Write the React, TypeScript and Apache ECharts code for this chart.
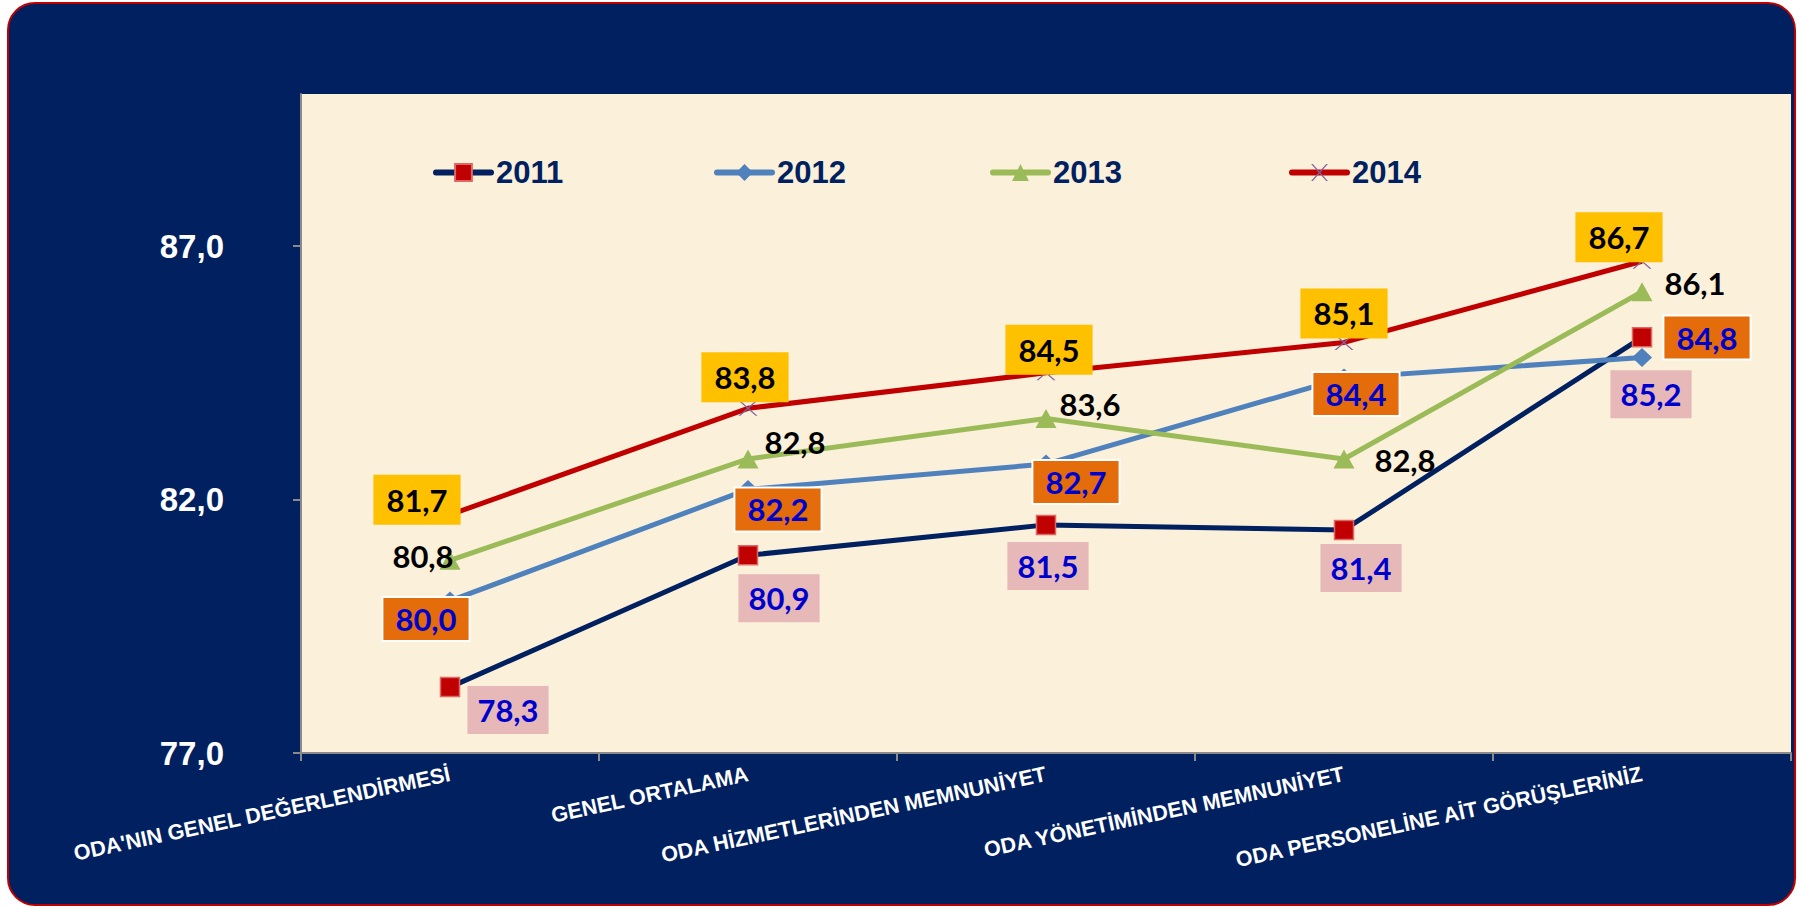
import React, { useEffect, useRef } from 'react';
import * as echarts from 'echarts';

const categories = [
  "ODA'NIN GENEL DEĞERLENDİRMESİ",
  'GENEL ORTALAMA',
  'ODA HİZMETLERİNDEN MEMNUNİYET',
  'ODA YÖNETİMİNDEN MEMNUNİYET',
  'ODA PERSONELİNE AİT GÖRÜŞLERİNİZ',
];
const seriesNames = ['2011', '2012', '2013', '2014'];
const values2011 = [78.3, 80.9, 81.5, 81.4, 85.2];
const values2012 = [80.0, 82.2, 82.7, 84.4, 84.8];
const values2013 = [80.8, 82.8, 83.6, 82.8, 86.1];
const values2014 = [81.7, 83.8, 84.5, 85.1, 86.7];
const yTicks = [77, 82, 87];
const yMin = 77;
const yMax = 90;

// label placement (label centre relative to the point, px)
const offsets2011 = [[58, 23], [31, 43], [2, 41], [17, 38], [9, 57]];
const offsets2012 = [[-24, 18], [30, 20], [30, 18], [12, 16], [65, -20]];
const offsets2013 = [[-27, -4], [47, -17], [44, -14], [61, 1], [53, -9]];
const offsets2014 = [[-33, -15], [-3, -31], [3, -23], [0, -29], [-23, -24]];

const fmt = (v: number) => v.toFixed(1).replace('.', ',');
const LABEL_FONT = 'Lato, "Open Sans", sans-serif';
const AXIS_FONT = '"Liberation Sans", Arial, sans-serif';
const X_SYMBOL = 'path://M0,0L2,0L20,16L18,16Z M18,0L20,0L2,16L0,16Z';

function build(values: number[], offsets: number[][]) {
  return values.map((v, i) => ({ value: v, label: { offset: offsets[i] } }));
}

export default function App() {
  const ref = useRef<HTMLDivElement>(null);
  useEffect(() => {
    if (!ref.current) return;
    const chart = echarts.init(ref.current, undefined, { renderer: 'svg' });
    const baseLabel = {
      show: true,
      position: 'inside',
      fontFamily: LABEL_FONT,
      fontWeight: 'bold',
      fontSize: 31,
      lineHeight: 32,
      formatter: (p: any) => fmt(p.value),
    };
    const legendCommon = {
      itemWidth: 55,
      itemHeight: 21,
      itemGap: 5,
      lineStyle: { width: 6, cap: 'round' },
      textStyle: { color: '#002060', fontWeight: 'bold', fontSize: 31, fontFamily: AXIS_FONT },
      top: 152,
    };
    chart.setOption({
      animation: false,
      backgroundColor: 'transparent',
      grid: {
        left: 301,
        right: 7,
        top: 94,
        bottom: 155,
        show: true,
        backgroundColor: '#FBF0D9',
        borderWidth: 0,
      },
      legend: [
        { ...legendCommon, left: 428, data: [seriesNames[0]] },
        { ...legendCommon, left: 709, data: [seriesNames[1]] },
        { ...legendCommon, left: 985, data: [seriesNames[2]] },
        { ...legendCommon, left: 1284, data: [seriesNames[3]] },
      ],
      xAxis: {
        type: 'category',
        data: categories,
        boundaryGap: true,
        axisLine: { lineStyle: { color: '#8A8A8A', width: 2 } },
        axisTick: { show: true, length: 8, lineStyle: { color: '#8A8A8A', width: 2 } },
        axisLabel: {
          interval: 0,
          rotate: 12,
          margin: 21,
          color: '#FFFFFF',
          fontWeight: 'bold',
          fontSize: 21.5,
          fontFamily: AXIS_FONT,
        },
        splitLine: { show: false },
      },
      yAxis: {
        type: 'value',
        min: yMin,
        max: yMax,
        axisLine: { show: true, lineStyle: { color: '#8A8A8A', width: 2 } },
        axisTick: { show: true, length: 8, customValues: yTicks, lineStyle: { color: '#8A8A8A', width: 2 } },
        axisLabel: {
          customValues: yTicks,
          margin: 77,
          color: '#FFFFFF',
          fontWeight: 'bold',
          fontSize: 33,
          fontFamily: AXIS_FONT,
          formatter: (v: number) => fmt(v),
        },
        splitLine: { show: false },
      },
      series: [
        {
          name: seriesNames[0],
          type: 'line',
          data: build(values2011, offsets2011),
          symbol: 'rect',
          symbolSize: 19,
          showSymbol: true,
          lineStyle: { color: '#002060', width: 5 },
          itemStyle: { color: '#C00000', borderColor: '#E06666', borderWidth: 1.5 },
          label: {
            ...baseLabel,
            color: '#0000CC',
            backgroundColor: '#E6B9B8',
            padding: [8, 10],
          },
        },
        {
          name: seriesNames[1],
          type: 'line',
          data: build(values2012, offsets2012),
          symbol: 'diamond',
          symbolSize: [20, 19],
          showSymbol: true,
          lineStyle: { color: '#4F81BD', width: 5 },
          itemStyle: { color: '#4F81BD' },
          label: {
            ...baseLabel,
            color: '#0000CC',
            backgroundColor: '#E46C0A',
            borderColor: '#FFFFFF',
            borderWidth: 2,
            padding: [5, 12],
          },
        },
        {
          name: seriesNames[2],
          type: 'line',
          data: build(values2013, offsets2013),
          symbol: 'triangle',
          symbolSize: [21, 19],
          showSymbol: true,
          lineStyle: { color: '#9BBB59', width: 5 },
          itemStyle: { color: '#9BBB59' },
          label: {
            ...baseLabel,
            color: '#000000',
          },
        },
        {
          name: seriesNames[3],
          type: 'line',
          data: build(values2014, offsets2014),
          symbol: X_SYMBOL,
          symbolSize: [19, 15],
          showSymbol: true,
          lineStyle: { color: '#C00000', width: 5 },
          itemStyle: { color: '#8064A2' },
          label: {
            ...baseLabel,
            color: '#000000',
            backgroundColor: '#FFC000',
            padding: [9, 13],
          },
        },
      ],
    });
    return () => chart.dispose();
  }, []);

  return (
    <div style={{ position: 'absolute', left: 0, top: 0, width: 1798, height: 908, background: '#FFFFFF' }}>
      <div
        style={{
          position: 'absolute',
          left: 7,
          top: 2,
          width: 1789,
          height: 904,
          boxSizing: 'border-box',
          border: '2px solid #C00000',
          borderRadius: 28,
          background: '#002060',
        }}
      />
      <div ref={ref} style={{ position: 'absolute', left: 0, top: 0, width: 1798, height: 908 }} />
    </div>
  );
}
